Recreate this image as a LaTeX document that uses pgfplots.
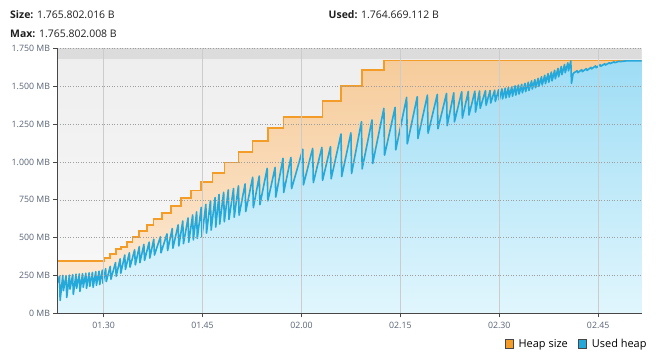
\documentclass[border=0pt]{standalone}
\usepackage{fontspec}
\setmainfont{Open Sans}
\usepackage{pgfplots}
\usepackage{pgfplotstable}
\pgfplotsset{compat=1.18}
\definecolor{heapline}{RGB}{243,156,40}
\definecolor{usedline}{RGB}{37,168,218}
\definecolor{heaptop}{RGB}{246,204,155}
\definecolor{heapbot}{RGB}{253,236,218}
\definecolor{usedtop}{RGB}{158,221,245}
\definecolor{usedbot}{RGB}{225,246,253}
\definecolor{bgtop}{RGB}{238,238,238}
\definecolor{bgbot}{RGB}{249,249,249}
\definecolor{band}{RGB}{220,220,220}
\definecolor{labelcol}{RGB}{88,98,118}

% heap size (MB) -- step function, value holds until next time (minutes after 01:00)
\pgfplotstableread{
t v
23.0 346
30.0 364
31.0 392
31.86 423
32.67 440
33.53 473
34.38 503
35.39 544
36.56 582
37.56 621
38.83 661
40.24 709
41.76 761
43.27 811
44.79 866
46.5 929
48.32 997
50.44 1064
52.56 1139
54.89 1223
57.26 1299
63.17 1401
66.0 1502
69.23 1608
72.52 1670
111.6 1670
}\heapdata

% used heap (MB)
\pgfplotstableread{
t v
23.0 200
23.3 245
23.4 85
23.8 250
23.9 150
24.3 248
24.4 105
24.8 252
24.9 160
25.3 255
25.4 125
25.8 258
25.9 165
26.3 260
26.4 145
26.8 262
26.9 172
27.3 265
27.4 165
27.8 268
27.9 178
28.3 270
28.4 172
28.8 275
28.9 185
29.3 278
29.4 190
29.8 285
29.9 198
30.3 295
30.4 210
31.0 310
31.1 225
31.8 335
31.9 245
32.5 360
32.6 265
33.2 385
33.3 290
33.9 400
34.0 305
34.7 420
34.8 320
35.4 440
35.5 335
36.1 455
36.2 350
36.9 470
37.0 365
37.6 490
37.7 385
38.6 505
38.7 400
39.6 525
39.7 415
40.4 560
40.5 430
41.3 585
41.4 445
42.0 610
42.1 460
42.8 630
42.9 470
43.5 650
43.6 485
44.1 670
44.2 495
44.8 700
44.9 505
45.5 720
45.6 530
46.2 745
46.3 550
46.9 765
47.0 570
47.5 785
47.6 590
48.2 800
48.3 605
48.9 815
49.0 620
49.7 825
49.8 635
50.44 842
50.54 648
51.45 855
51.55 673
52.6 899
52.7 698
53.6 907
53.7 718
54.8 958
54.9 743
56.0 964
56.1 768
57.2 1024
57.3 798
58.4 1030
58.5 824
60.2 1084
60.3 849
61.7 1090
61.8 864
63.1 1097
63.2 879
64.4 1101
64.5 889
66.0 1185
66.1 904
67.5 1193
67.6 924
69.1 1266
69.2 954
70.7 1278
70.8 990
72.5 1355
72.6 1045
74.2 1361
74.3 1080
75.95 1427
76.05 1120
77.56 1431
77.66 1155
79.1 1442
79.2 1190
80.6 1447
80.7 1220
82.0 1453
82.1 1240
83.1 1457
83.2 1265
84.3 1464
84.4 1290
85.3 1466
85.4 1310
86.3 1468
86.4 1330
87.0 1469
87.1 1355
87.9 1471
88.0 1375
88.6 1472
88.7 1390
89.3 1474
89.4 1400
89.9 1478
90.0 1410
90.4 1483
90.5 1417
90.9 1488
91.0 1423
91.4 1493
91.5 1429
91.9 1498
92.0 1435
92.4 1503
92.5 1442
92.9 1508
93.0 1449
93.4 1513
93.5 1457
93.9 1519
94.0 1465
94.4 1527
94.5 1473
94.9 1536
95.0 1482
95.4 1544
95.5 1491
95.9 1553
96.0 1500
96.4 1563
96.5 1509
96.9 1573
97.0 1518
97.4 1584
97.5 1527
97.9 1594
98.0 1536
98.4 1606
98.5 1550
98.9 1618
99.0 1563
99.4 1631
99.5 1577
99.9 1644
100.0 1590
100.4 1655
100.5 1603
100.85 1668
100.95 1520
101.2 1585
101.8 1603
101.9 1590
102.5 1610
102.6 1597
103.2 1617
103.3 1605
103.9 1625
104.0 1615
104.6 1635
104.7 1623
105.3 1642
105.4 1633
106.0 1649
106.1 1641
106.7 1656
106.8 1650
107.4 1662
107.5 1656
108.2 1666
108.3 1663
109.2 1668
111.6 1668
}\useddata

\newcommand{\hdrfont}{\fontsize{10.5}{12}\selectfont}

\begin{document}
\begin{tikzpicture}[x=1bp,y=1bp]
\begin{axis}[
  scale only axis, width=584.2bp, height=264.8bp,
  xmin=23.0, xmax=111.6, ymin=0, ymax=1750,
  axis on top,
  axis background/.style={shade, top color=bgtop, bottom color=bgbot},
  axis x line*=bottom, axis y line*=left,
  axis line style={draw=black!72, line width=0.8pt, -},
  xtick={30,45,60,75,90,105},
  xticklabels={01.30,01.45,02.00,02.15,02.30,02.45},
  ytick={0,250,500,750,1000,1250,1500,1750},
  yticklabels={0 MB,250 MB,500 MB,750 MB,1.000 MB,1.250 MB,1.500 MB,1.750 MB},
  tick align=outside, major tick length=4bp,
  tick style={draw=black!72, line width=0.7pt},
  xtick pos=bottom, ytick pos=left,
  tick label style={font=\fontsize{8.8}{10}\selectfont, text=labelcol},
  xticklabel style={yshift=-1bp},
  xmajorgrids, ymajorgrids,
  x grid style={draw=black!20, line width=0.7pt, solid},
  y grid style={draw=black!38, line width=0.6pt, dotted},
  legend style={at={(axis description cs:1,0)}, anchor=east, xshift=5bp, yshift=-30.5bp,
    draw=none, fill=none, font=\fontsize{11}{13}\selectfont, inner sep=0pt,
    nodes={inner sep=0pt},
    /tikz/every odd column/.append style={column sep=5bp},
    /tikz/every even column/.append style={column sep=10bp}},
  legend columns=2,
  legend cell align=left,
  legend image code/.code={\draw[#1, draw=black!72, line width=0.7pt] (0bp,-4.2bp) rectangle (8.4bp,4.2bp);},
]
\addplot[draw=none, fill=band, forget plot] coordinates {(23,1681) (111.6,1681) (111.6,1760) (23,1760) (23,1681)};
\addplot[draw=none, const plot, top color=heaptop, bottom color=heapbot, forget plot] table[x=t,y=v] {\heapdata} \closedcycle;
\addplot[draw=none, top color=usedtop, bottom color=usedbot, forget plot] table[x=t,y=v] {\useddata} \closedcycle;
\addplot[heapline, const plot, line width=1.7pt, forget plot] table[x=t,y=v] {\heapdata};
\addplot[usedline, line width=1.6pt, line join=round, forget plot] table[x=t,y=v] {\useddata};
\addlegendimage{fill=heapline}
\addlegendentry{Heap size}
\addlegendimage{fill=usedline}
\addlegendentry{Used heap}
\coordinate (ll) at (rel axis cs:0,0);
\end{axis}
\pgfresetboundingbox
\begin{scope}[shift={(ll)}, xshift=-57.5bp, yshift=-48.7bp]
\useasboundingbox (0,0) rectangle (658,362);
\node[anchor=base west, inner sep=0, font=\hdrfont, text=black!88] at (10,343.5) {\textbf{Size:} 1.765.802.016 B};
\node[anchor=base west, inner sep=0, font=\hdrfont, text=black!88] at (10,324.5) {\textbf{Max:} 1.765.802.008 B};
\node[anchor=base west, inner sep=0, font=\hdrfont, text=black!88] at (328.5,343.5) {\textbf{Used:} 1.764.669.112 B};
\end{scope}
\end{tikzpicture}
\end{document}
